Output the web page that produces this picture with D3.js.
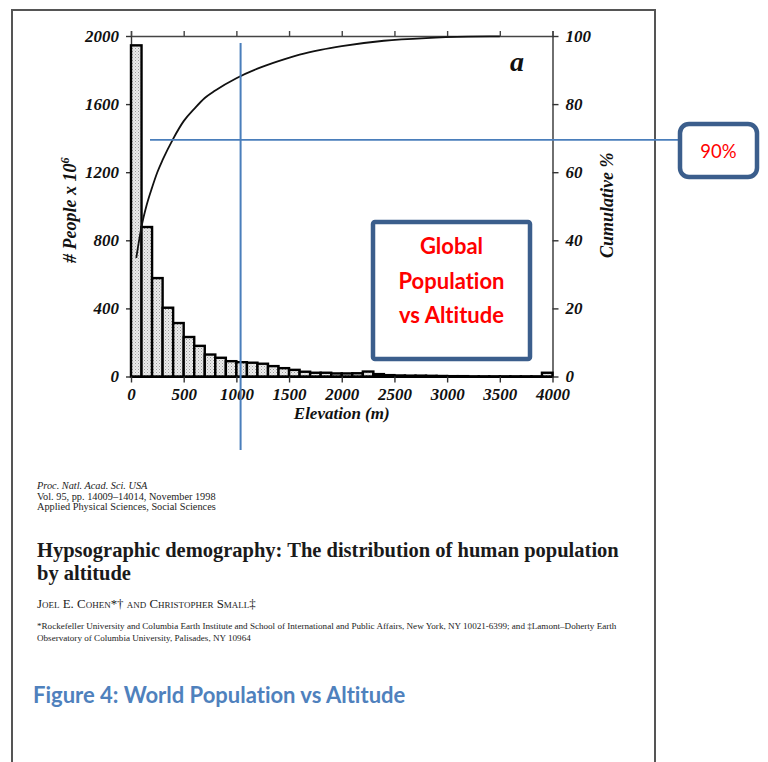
<!DOCTYPE html>
<html>
<head>
<meta charset="utf-8">
<script src="https://cdn.jsdelivr.net/npm/d3@7/dist/d3.min.js"></script>
<style>
  html, body { margin: 0; padding: 0; background: #fff; }
  svg { display: block; }
  text { font-variant-ligatures: none; }
  .serif { font-family: "Liberation Serif", "Times New Roman", serif; }
  .axis-num { font-family: "Liberation Serif", serif; font-weight: bold; font-style: italic; font-size: 17px; fill: #111; }
</style>
</head>
<body>
<svg id="page" width="768" height="762"></svg>
<script>
// Population by 100 m elevation band (millions of people), bands start at these elevations
const binStarts = d3.range(0, 4000, 100);
const people = [1945, 878, 578, 404, 314, 232, 180, 129, 110, 90,
                84, 81, 75, 61, 49, 39, 28, 22, 22, 18,
                18, 19, 29, 14, 8, 6, 5, 5, 4, 3,
                2, 2, 1, 1, 1, 1, 1, 1, 1, 22];

// Cumulative share of population below each elevation (%)
const cumElev = [50, 100, 150, 200, 250, 300, 400, 500, 600, 700, 800, 1000,
                 1200, 1400, 1600, 1800, 2000, 2400, 2800, 3200, 3500];
const cumPct  = [34.8, 44, 50.5, 55.5, 60, 63.6, 69.8, 75, 78.6, 81.8, 84, 87.6,
                 90.4, 92.6, 94.5, 95.9, 97, 98.6, 99.4, 99.8, 99.9];

const leftTicks  = [0, 400, 800, 1200, 1600, 2000];
const rightTicks = [0, 20, 40, 60, 80, 100];
const xTicks     = [0, 500, 1000, 1500, 2000, 2500, 3000, 3500, 4000];

// Callout guide lines (elevation in m, cumulative %)
const guideElev = 1040;
const guidePct  = 69.5;

const svg = d3.select("#page");

// page frame
svg.append("path")
  .attr("d", "M12,762 V10 H655 V762")
  .attr("fill", "none").attr("stroke", "#555").attr("stroke-width", 2);

// stippled fill for histogram bars
const defs = svg.append("defs");
const pat = defs.append("pattern").attr("id", "stipple")
  .attr("width", 3).attr("height", 3).attr("patternUnits", "userSpaceOnUse");
pat.append("rect").attr("width", 3).attr("height", 3).attr("fill", "#ececec");
pat.append("rect").attr("x", 0).attr("y", 0).attr("width", 1).attr("height", 1).attr("fill", "#9a9a9a");
pat.append("rect").attr("x", 1.5).attr("y", 1.5).attr("width", 1).attr("height", 1).attr("fill", "#b5b5b5");

const x  = d3.scaleLinear().domain([0, 4000]).range([131, 552.5]);
const yL = d3.scaleLinear().domain([0, 2000]).range([376.5, 36]);
const yR = d3.scaleLinear().domain([0, 100]).range([376.5, 36]);
const plain = d3.format("d");

const chart = svg.append("g");

// top frame line with outward ticks
const topAxis = chart.append("g").attr("transform", `translate(0,${yL(2000)})`)
  .call(d3.axisTop(x).tickValues(xTicks).tickSize(5).tickFormat(""));
topAxis.selectAll("path, line").attr("stroke", "#444").attr("stroke-width", 1.4);

// left axis
const leftAxis = chart.append("g").attr("transform", `translate(${x(0)},0)`)
  .call(d3.axisLeft(yL).tickValues(leftTicks).tickFormat(plain).tickSize(5).tickPadding(7).tickSizeOuter(0));
leftAxis.selectAll("path, line").attr("stroke", "#333").attr("stroke-width", 1.4);
leftAxis.selectAll("text").attr("class", "axis-num").attr("font-size", null).attr("font-family", null);

// right axis
const rightAxis = chart.append("g").attr("transform", `translate(${x(4000)},0)`)
  .call(d3.axisRight(yR).tickValues(rightTicks).tickFormat(plain).tickSize(6).tickPadding(7).tickSizeOuter(0));
rightAxis.selectAll("path, line").attr("stroke", "#333").attr("stroke-width", 1.4);
rightAxis.selectAll("text").attr("class", "axis-num").attr("font-size", null).attr("font-family", null);

// bars
chart.append("g").selectAll("rect")
  .data(binStarts)
  .join("rect")
  .attr("x", d => x(d))
  .attr("width", d => x(d + 100) - x(d))
  .attr("y", (d, i) => yL(people[i]))
  .attr("height", (d, i) => yL(0) - yL(people[i]))
  .attr("fill", "url(#stipple)")
  .attr("stroke", "#000")
  .attr("stroke-width", 2.4);

// bottom axis
const bottomAxis = chart.append("g").attr("transform", `translate(0,${yL(0)})`)
  .call(d3.axisBottom(x).tickValues(xTicks).tickFormat(plain).tickSize(6).tickPadding(5).tickSizeOuter(0));
bottomAxis.select("path").attr("stroke", "#000").attr("stroke-width", 2);
bottomAxis.selectAll("line").attr("stroke", "#333").attr("stroke-width", 1.4);
bottomAxis.selectAll("text").attr("class", "axis-num").attr("font-size", null).attr("font-family", null);

// cumulative curve
const line = d3.line()
  .x(d => x(d))
  .y((d, i) => yR(cumPct[i]))
  .curve(d3.curveMonotoneX);
chart.append("path")
  .attr("d", line(cumElev))
  .attr("fill", "none").attr("stroke", "#111").attr("stroke-width", 1.8);

// axis titles
svg.append("text")
  .attr("transform", `translate(76,${yL(1000) + 4}) rotate(-90)`)
  .attr("text-anchor", "middle")
  .attr("class", "axis-num")
  .style("font-size", "18px")
  .html('# People x 10<tspan dy="-7" font-size="12">6</tspan>');

svg.append("text")
  .attr("transform", `translate(613,${yR(50) - 1}) rotate(-90)`)
  .attr("text-anchor", "middle")
  .attr("class", "axis-num")
  .style("font-size", "18px")
  .text("Cumulative %");

svg.append("text")
  .attr("x", (x(0) + x(4000)) / 2).attr("y", 419)
  .attr("text-anchor", "middle")
  .attr("class", "axis-num")
  .text("Elevation (m)");

svg.append("text")
  .attr("x", 517).attr("y", 71)
  .attr("text-anchor", "middle")
  .attr("class", "axis-num")
  .style("font-size", "28px")
  .text("a");

// callout guide lines
const guideColor = "#4a7ebb";
svg.append("line")
  .attr("x1", x(guideElev)).attr("x2", x(guideElev))
  .attr("y1", 43).attr("y2", 450)
  .attr("stroke", guideColor).attr("stroke-width", 2);
svg.append("line")
  .attr("x1", 150).attr("x2", 679)
  .attr("y1", yR(guidePct)).attr("y2", yR(guidePct))
  .attr("stroke", guideColor).attr("stroke-width", 1.6);

// callout boxes
const boxStroke = "#3b5e8c";
svg.append("rect")
  .attr("x", 373).attr("y", 222).attr("width", 157).attr("height", 137)
  .attr("rx", 2)
  .attr("fill", "#fff").attr("stroke", boxStroke).attr("stroke-width", 4.5);
const boxText = svg.append("text")
  .attr("text-anchor", "middle")
  .attr("font-family", "Lato, 'Open Sans', sans-serif")
  .attr("font-weight", "bold")
  .attr("font-size", 22)
  .attr("fill", "#ff0000");
["Global", "Population", "vs Altitude"].forEach((t, i) => {
  boxText.append("tspan").attr("x", 451.5).attr("y", 254 + i * 34.5).text(t);
});

svg.append("rect")
  .attr("x", 680).attr("y", 124).attr("width", 77).attr("height", 53)
  .attr("rx", 9)
  .attr("fill", "#fff").attr("stroke", boxStroke).attr("stroke-width", 4.5);
svg.append("text")
  .attr("x", 718.5).attr("y", 157.5)
  .attr("text-anchor", "middle")
  .attr("font-family", "Lato, 'Open Sans', sans-serif")
  .attr("font-size", 18.5)
  .attr("fill", "#ff0000")
  .text("90%");

// citation block
const cite = svg.append("g").attr("class", "serif").attr("fill", "#222");
cite.append("text").attr("x", 37).attr("y", 489).attr("font-size", 10.3)
  .attr("font-style", "italic").text("Proc. Natl. Acad. Sci. USA");
cite.append("text").attr("x", 37).attr("y", 499.5).attr("font-size", 10.3)
  .text("Vol. 95, pp. 14009–14014, November 1998");
cite.append("text").attr("x", 37).attr("y", 510).attr("font-size", 10.3)
  .text("Applied Physical Sciences, Social Sciences");

cite.append("text").attr("x", 37).attr("y", 557).attr("font-size", 20.5)
  .attr("font-weight", "bold").attr("fill", "#1a1a1a")
  .text("Hypsographic demography: The distribution of human population");
cite.append("text").attr("x", 37).attr("y", 580).attr("font-size", 20.5)
  .attr("font-weight", "bold").attr("fill", "#1a1a1a")
  .text("by altitude");

cite.append("text").attr("x", 37).attr("y", 608).attr("font-size", 12.9)
  .style("font-variant", "small-caps")
  .text("Joel E. Cohen*† and Christopher Small‡");

cite.append("text").attr("x", 37).attr("y", 629).attr("font-size", 9.1)
  .text("*Rockefeller University and Columbia Earth Institute and School of International and Public Affairs, New York, NY 10021-6399; and ‡Lamont–Doherty Earth");
cite.append("text").attr("x", 37).attr("y", 641).attr("font-size", 9.1)
  .text("Observatory of Columbia University, Palisades, NY 10964");

svg.append("text")
  .attr("x", 33).attr("y", 703)
  .attr("font-family", "Lato, 'Open Sans', sans-serif")
  .attr("font-weight", "bold")
  .attr("font-size", 22)
  .attr("fill", "#4f81bd")
  .text("Figure 4: World Population vs Altitude");
</script>
</body>
</html>
